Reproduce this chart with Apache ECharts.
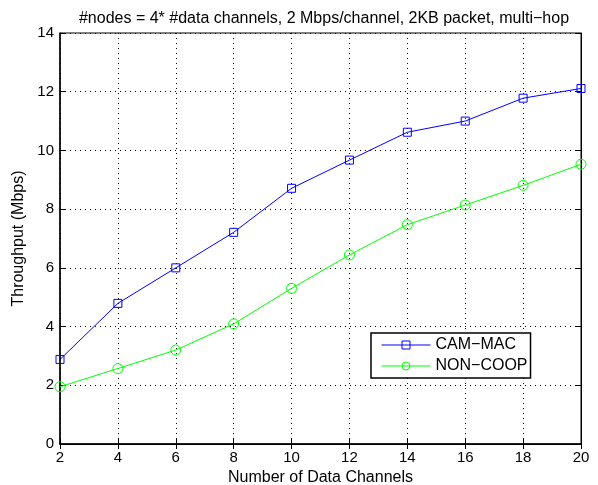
<!DOCTYPE html>
<html>
<head>
    <meta charset="utf-8">
    <title>Throughput</title>
    <script type="text/javascript" src="https://cdn.jsdelivr.net/npm/echarts@6/dist/echarts.min.js"></script>
    <style>
        body { margin: 0; background: #fff; }
    </style>
</head>
<body>
    <div id="main" style="width: 598px;height:485px;"></div>
    <script type="text/javascript">
        // data
        var channels = [2, 4, 6, 8, 10, 12, 14, 16, 18, 20];
        var camMac = [2.88, 4.79, 6.00, 7.21, 8.71, 9.67, 10.62, 11.00, 11.78, 12.11];
        var nonCoop = [1.95, 2.57, 3.20, 4.09, 5.30, 6.44, 7.47, 8.14, 8.81, 9.53];
        var seriesNames = ['CAM\u2212MAC', 'NON\u2212COOP'];

        function pairs(xs, ys) {
            return xs.map(function (x, i) { return [x, ys[i]]; });
        }

        var font = 'Liberation Sans, Arial, Helvetica, sans-serif';
        var myChart = echarts.init(document.getElementById('main'));

        var gridLine = { show: true, lineStyle: { color: '#000', type: [1, 4], width: 1 } };

        var option = {
            backgroundColor: '#fff',
            animation: false,
            textStyle: { fontFamily: font },
            title: {
                text: '#nodes = 4* #data channels, 2 Mbps/channel, 2KB packet, multi\u2212hop',
                left: 319, textAlign: 'center', top: 6,
                textStyle: { fontSize: 16, fontWeight: 'normal', color: '#000', fontFamily: font }
            },
            grid: {
                left: 60, right: 17, top: 33, bottom: 41,
                outerBoundsMode: 'none', containLabel: false,
                show: true, borderColor: '#000', borderWidth: 1
            },
            legend: {
                orient: 'vertical', left: 371, top: 333,
                padding: [4, 3, 4, 10], itemGap: 5,
                itemWidth: 49, itemHeight: 10,
                backgroundColor: '#fff', borderColor: '#000', borderWidth: 1.5,
                lineStyle: { width: 1 },
                itemStyle: { borderWidth: 1 },
                textStyle: { fontSize: 16, color: '#000', fontFamily: font },
                data: seriesNames
            },
            xAxis: [{
                type: 'value', min: 2, max: 20, interval: 2,
                name: 'Number of Data Channels', nameLocation: 'middle', nameGap: 23,
                nameTextStyle: { fontSize: 16, color: '#000' },
                axisLine: { lineStyle: { color: '#000', width: 1.5 } },
                axisTick: { inside: true, length: 5, lineStyle: { color: '#000' } },
                axisLabel: { fontSize: 15, color: '#000', margin: 6 },
                splitLine: gridLine
            }, {
                type: 'value', min: 2, max: 20, interval: 2, position: 'top',
                axisLine: { lineStyle: { color: '#000' } },
                axisTick: { inside: true, length: 5, lineStyle: { color: '#000' } },
                axisLabel: { show: false }, splitLine: { show: false }
            }],
            yAxis: [{
                type: 'value', min: 0, max: 14, interval: 2,
                name: 'Throughput (Mbps)', nameLocation: 'middle', nameGap: 32,
                nameTextStyle: { fontSize: 16, color: '#000' },
                axisLine: { show: true, lineStyle: { color: '#000', width: 1.5 } },
                axisTick: { show: true, inside: true, length: 5, lineStyle: { color: '#000' } },
                axisLabel: { fontSize: 15, color: '#000', margin: 6 },
                splitLine: gridLine
            }, {
                type: 'value', min: 0, max: 14, interval: 2, position: 'right',
                axisLine: { show: true, lineStyle: { color: '#000' } },
                axisTick: { show: true, inside: true, length: 5, lineStyle: { color: '#000' } },
                axisLabel: { show: false }, splitLine: { show: false }
            }],
            series: [{
                name: seriesNames[0], type: 'line',
                data: pairs(channels, camMac),
                symbol: 'rect', symbolSize: 8,
                lineStyle: { color: '#0000ff', width: 1 },
                itemStyle: { color: 'rgba(255,255,255,0)', borderColor: '#0000ff', borderWidth: 1 }
            }, {
                name: seriesNames[1], type: 'line',
                data: pairs(channels, nonCoop),
                symbol: 'circle', symbolSize: 10,
                lineStyle: { color: '#00ff00', width: 1 },
                itemStyle: { color: 'rgba(255,255,255,0)', borderColor: '#00ff00', borderWidth: 1 }
            }]
        };

        myChart.setOption(option);
    </script>
</body>
</html>
